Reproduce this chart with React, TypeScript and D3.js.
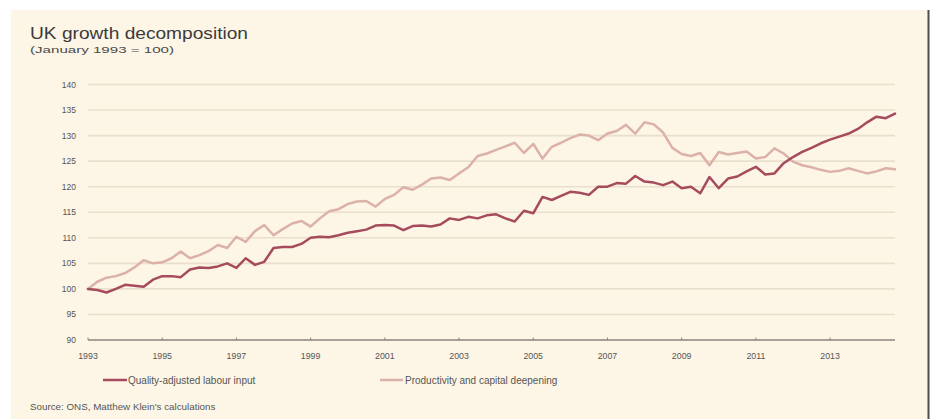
import React from "react";
import * as d3 from "d3";

// Quarterly observations, 1993 Q1 .. 2014 Q4 (January 1993 = 100)
const startYear = 1993;
const labourInput = [
  100.0, 99.8, 99.3, 100.0, 100.8, 100.6, 100.4, 101.8,
  102.5, 102.5, 102.3, 103.8, 104.2, 104.1, 104.4, 105.0,
  104.1, 106.0, 104.7, 105.3, 108.0, 108.2, 108.2, 108.8,
  110.0, 110.2, 110.1, 110.5, 111.0, 111.3, 111.6, 112.4,
  112.5, 112.4, 111.5, 112.3, 112.4, 112.2, 112.6, 113.8,
  113.5, 114.1, 113.8, 114.4, 114.6, 113.8, 113.2, 115.3,
  114.8, 118.0, 117.4, 118.2, 119.0, 118.8, 118.4, 120.0,
  120.0, 120.7, 120.6, 122.1, 121.0, 120.8, 120.3, 121.0,
  119.7, 120.0, 118.7, 121.9, 119.7, 121.6, 122.0, 123.0,
  123.9, 122.4, 122.6, 124.6, 125.8, 126.8, 127.6, 128.5,
  129.2, 129.8, 130.4, 131.3, 132.6, 133.7, 133.4, 134.3,
];
const productivity = [
  100.0, 101.4, 102.2, 102.5, 103.1, 104.2, 105.6, 105.0,
  105.2, 106.0, 107.3, 106.0, 106.6, 107.4, 108.6, 108.0,
  110.2, 109.2, 111.3, 112.5, 110.5, 111.7, 112.8, 113.3,
  112.2, 113.8, 115.2, 115.6, 116.6, 117.1, 117.2, 116.1,
  117.6, 118.4, 119.9, 119.4, 120.4, 121.6, 121.8, 121.3,
  122.6, 123.8, 126.0, 126.5, 127.2, 127.9, 128.6, 126.6,
  128.4, 125.5, 127.8, 128.6, 129.5, 130.2, 130.0, 129.1,
  130.4, 130.9, 132.1, 130.4, 132.6, 132.2, 130.6, 127.6,
  126.4, 126.0, 126.6, 124.2, 126.8, 126.3, 126.6, 126.9,
  125.5, 125.8, 127.5, 126.5, 124.9, 124.2, 123.8, 123.3,
  122.9, 123.1, 123.6, 123.1, 122.6, 123.0, 123.6, 123.4,
];
const yTicks = [90, 95, 100, 105, 110, 115, 120, 125, 130, 135, 140];
const xTicks = [1993, 1995, 1997, 1999, 2001, 2003, 2005, 2007, 2009, 2011, 2013];

const seriesNames = ["Quality-adjusted labour input", "Productivity and capital deepening"];
const seriesColors = ["#a64b5d", "#dcb1a9"];

const FONT = "'Liberation Sans', Arial, sans-serif";

type Pt = { t: number; v: number };
const toPoints = (vals: number[]): Pt[] =>
  vals.map((v, i) => ({ t: startYear + i / 4, v }));

export default function App() {
  const W = 934;
  const H = 419;
  const x = d3.scaleLinear().domain([1993, 2014.75]).range([88, 895]);
  const y = d3.scaleLinear().domain([90, 140]).range([340, 84.5]);
  const line = d3
    .line<Pt>()
    .x((d) => x(d.t))
    .y((d) => y(d.v));

  const series = [toPoints(labourInput), toPoints(productivity)];

  return (
    <div style={{ position: "fixed", left: 0, top: 0, width: W, height: H, background: "#fff" }}>
      <svg width={W} height={H} style={{ display: "block" }}>
        <rect x={11} y={10} width={917} height={H - 10} fill="#fdf6e6" />
        <line x1={928.5} x2={928.5} y1={10} y2={H} stroke="#4d4d4d" strokeWidth={2} />

        <text x={30} y={39} fontFamily={FONT} fontSize={17} fill="#3b3b3b" textLength={218} lengthAdjust="spacingAndGlyphs">
          UK growth decomposition
        </text>
        <text x={30} y={53} fontFamily={FONT} fontSize={9.5} fill="#4a4a4a" textLength={144} lengthAdjust="spacingAndGlyphs">
          (January 1993 = 100)
        </text>

        {yTicks.map((t) => (
          <g key={t}>
            <line
              x1={x(1993)}
              x2={x(2014.75)}
              y1={y(t)}
              y2={y(t)}
              stroke={t === 90 ? "#8a857c" : "#e9dfcc"}
              strokeWidth={1.6}
            />
            <text
              x={76}
              y={y(t) + 3}
              textAnchor="end"
              fontFamily={FONT}
              fontSize={8.5}
              fill="#555"
            >
              {t}
            </text>
          </g>
        ))}

        {xTicks.map((yr) => (
          <g key={yr}>
            <line x1={x(yr)} x2={x(yr)} y1={y(90) - 2.5} y2={y(90)} stroke="#8a857c" strokeWidth={1} />
            <text x={x(yr)} y={359} textAnchor="middle" fontFamily={FONT} fontSize={8.8} fill="#555">
              {yr}
            </text>
          </g>
        ))}

        {[1, 0].map((i) => (
          <path
            key={i}
            d={line(series[i]) || ""}
            fill="none"
            stroke={seriesColors[i]}
            strokeWidth={2.5}
            strokeLinejoin="round"
            strokeLinecap="round"
          />
        ))}

        {/* legend */}
        <line x1={103} x2={127} y1={380} y2={380} stroke={seriesColors[0]} strokeWidth={2.5} />
        <text x={128} y={383.5} fontFamily={FONT} fontSize={10} fill="#555">
          {seriesNames[0]}
        </text>
        <line x1={380} x2={403} y1={380} y2={380} stroke={seriesColors[1]} strokeWidth={2.5} />
        <text x={405} y={383.5} fontFamily={FONT} fontSize={10} fill="#555">
          {seriesNames[1]}
        </text>

        <text x={30} y={410} fontFamily={FONT} fontSize={9.8} fill="#555">
          Source: ONS, Matthew Klein's calculations
        </text>
      </svg>
    </div>
  );
}
